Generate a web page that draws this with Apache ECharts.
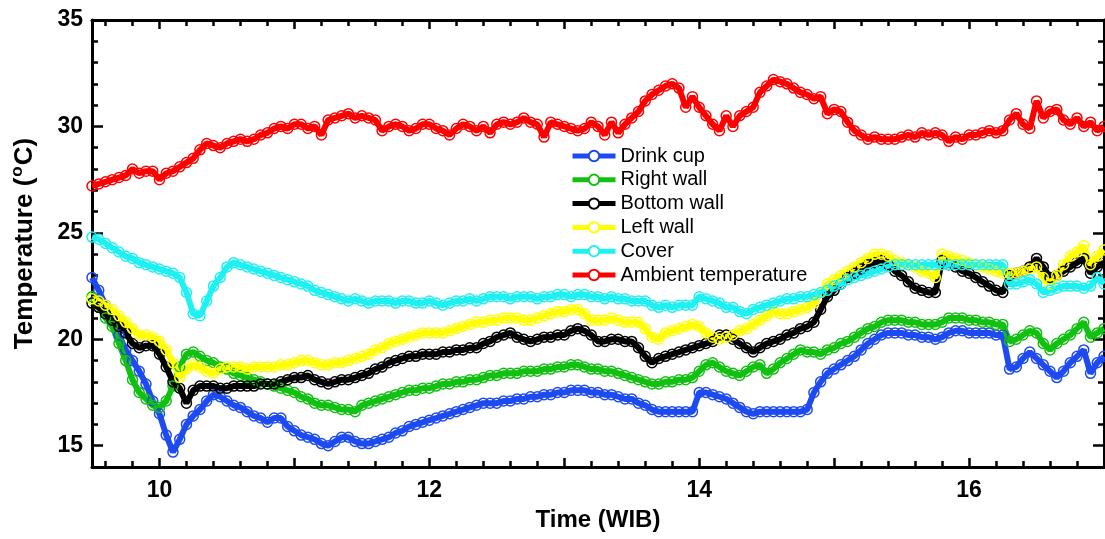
<!DOCTYPE html>
<html>
<head>
<meta charset="utf-8">
<script src="https://cdn.jsdelivr.net/npm/echarts@6/dist/echarts.min.js"></script>
<style>
html,body{margin:0;padding:0;background:#fff;}
#chart{width:1105px;height:539px;}
</style>
</head>
<body>
<div id="chart"></div>
<script>
const times = [
9.5,9.55,9.6,9.65,9.7,9.75,9.8,9.85,9.9,9.95,
10,10.05,10.1,10.15,10.2,10.25,10.3,10.35,10.4,10.45,
10.5,10.55,10.6,10.65,10.7,10.75,10.8,10.85,10.9,10.95,
11,11.05,11.1,11.15,11.2,11.25,11.3,11.35,11.4,11.45,
11.5,11.55,11.6,11.65,11.7,11.75,11.8,11.85,11.9,11.95,
12,12.05,12.1,12.15,12.2,12.25,12.3,12.35,12.4,12.45,
12.5,12.55,12.6,12.65,12.7,12.75,12.8,12.85,12.9,12.95,
13,13.05,13.1,13.15,13.2,13.25,13.3,13.35,13.4,13.45,
13.5,13.55,13.6,13.65,13.7,13.75,13.8,13.85,13.9,13.95,
14,14.05,14.1,14.15,14.2,14.25,14.3,14.35,14.4,14.45,
14.5,14.55,14.6,14.65,14.7,14.75,14.8,14.85,14.9,14.95,
15,15.05,15.1,15.15,15.2,15.25,15.3,15.35,15.4,15.45,
15.5,15.55,15.6,15.65,15.7,15.75,15.8,15.85,15.9,15.95,
16,16.05,16.1,16.15,16.2,16.25,16.3,16.35,16.4,16.45,
16.5,16.55,16.6,16.65,16.7,16.75,16.8,16.85,16.9,16.95,
17];

const drinkCup = [
22.9,22.3,21.6,20.9,20.2,19.5,19.0,18.5,17.9,17.1,
16.5,15.5,14.7,15.3,16.0,16.4,16.7,17.1,17.4,17.3,
17.1,16.9,16.8,16.6,16.4,16.3,16.1,16.3,16.3,15.9,
15.7,15.5,15.4,15.3,15.1,15.0,15.2,15.4,15.4,15.2,
15.1,15.1,15.2,15.3,15.4,15.6,15.7,15.9,16.0,16.1,
16.2,16.3,16.4,16.5,16.6,16.7,16.8,16.9,17.0,17.0,
17.0,17.1,17.1,17.2,17.2,17.3,17.3,17.4,17.4,17.5,
17.5,17.6,17.6,17.6,17.5,17.5,17.4,17.4,17.3,17.2,
17.2,17.0,16.9,16.7,16.6,16.6,16.6,16.6,16.6,16.6,
17.5,17.5,17.4,17.3,17.2,17.0,16.8,16.6,16.5,16.6,
16.6,16.6,16.6,16.6,16.6,16.6,16.7,17.5,18.0,18.4,
18.6,18.8,19.0,19.2,19.5,19.8,20.0,20.2,20.3,20.3,
20.3,20.2,20.2,20.1,20.1,20.0,20.1,20.3,20.4,20.4,
20.3,20.3,20.3,20.3,20.2,20.2,18.6,18.7,19.1,19.4,
19.1,18.8,18.5,18.2,18.5,18.9,19.2,19.5,18.4,18.9,
19.2];

const rightWall = [
22.0,21.5,21.0,20.6,19.8,19.0,18.1,17.5,17.2,16.9,
16.8,17.1,17.8,18.7,19.3,19.4,19.2,19.0,18.9,18.7,
18.6,18.4,18.3,18.2,18.1,18.0,17.9,17.8,17.7,17.6,
17.5,17.3,17.2,17.0,16.9,16.9,16.8,16.7,16.7,16.6,
16.9,17.0,17.1,17.2,17.3,17.4,17.5,17.6,17.6,17.7,
17.7,17.8,17.9,17.9,18.0,18.0,18.1,18.1,18.2,18.3,
18.3,18.4,18.4,18.4,18.5,18.5,18.5,18.6,18.6,18.7,
18.7,18.8,18.8,18.7,18.6,18.6,18.5,18.5,18.4,18.3,
18.2,18.1,18.0,17.9,17.9,18.0,18.0,18.1,18.1,18.2,
18.5,18.8,18.9,18.7,18.5,18.4,18.3,18.5,18.7,18.8,
18.4,18.6,18.9,19.1,19.3,19.5,19.4,19.4,19.3,19.5,
19.6,19.8,19.9,20.1,20.3,20.5,20.6,20.8,20.9,20.9,
20.9,20.8,20.8,20.7,20.7,20.7,20.8,21.0,21.0,21.0,
20.9,20.9,20.8,20.8,20.7,20.7,19.9,20.0,20.2,20.4,
20.3,19.8,19.5,19.8,20.0,20.2,20.5,20.8,20.1,20.3,
20.5];

const bottomWall = [
21.7,21.5,21.2,20.9,20.6,20.3,19.8,19.6,19.7,19.7,
19.3,18.7,18.0,17.7,17.0,17.6,17.8,17.8,17.8,17.7,
17.7,17.8,17.8,17.8,17.8,17.9,17.9,17.9,18.0,18.1,
18.2,18.2,18.3,18.1,18.0,17.9,18.0,18.1,18.1,18.2,
18.3,18.4,18.6,18.7,18.9,19.0,19.1,19.2,19.2,19.3,
19.3,19.3,19.4,19.4,19.5,19.5,19.6,19.6,19.8,19.9,
20.1,20.2,20.3,20.1,20.0,19.9,20.0,20.1,20.1,20.2,
20.2,20.4,20.5,20.4,20.2,19.9,19.9,20.0,20.0,19.9,
19.9,19.6,19.2,18.9,19.1,19.2,19.3,19.4,19.5,19.6,
19.7,19.8,19.9,20.2,20.2,20.0,19.8,19.6,19.4,19.6,
19.8,19.9,20.0,20.2,20.3,20.5,20.6,20.8,21.4,22.0,
22.3,22.6,22.9,23.1,23.3,23.5,23.6,23.7,23.5,23.2,
23.0,22.7,22.4,22.3,22.2,22.2,23.7,23.5,23.4,23.2,
23.1,22.9,22.7,22.5,22.3,22.2,23.0,23.1,23.2,23.4,
23.8,23.4,22.9,23.0,23.2,23.4,23.6,23.8,23.1,23.4,
23.6];

const leftWall = [
21.9,21.8,21.6,21.4,21.1,20.8,20.5,20.2,20.2,20.1,
19.9,19.5,18.9,18.2,18.6,18.8,18.7,18.5,18.4,18.6,
18.7,18.7,18.7,18.6,18.7,18.7,18.7,18.7,18.8,18.8,
18.9,19.0,19.0,18.9,18.8,18.8,18.9,18.9,19.0,19.1,
19.2,19.3,19.5,19.6,19.8,19.9,20.0,20.1,20.2,20.3,
20.3,20.3,20.3,20.4,20.5,20.6,20.7,20.8,20.8,20.9,
20.9,21.0,21.0,21.0,20.9,20.9,21.0,21.1,21.2,21.3,
21.3,21.4,21.4,21.2,20.9,20.9,20.9,21.0,20.9,20.8,
20.8,20.8,20.5,20.1,20.0,20.3,20.4,20.5,20.6,20.7,
20.6,20.3,20.1,20.0,20.1,20.2,20.4,20.5,20.7,20.9,
21.1,21.3,21.2,21.2,21.3,21.4,21.5,21.7,22.2,22.6,
22.8,23.0,23.2,23.4,23.6,23.8,24.0,24.0,23.9,23.7,
23.6,23.5,23.4,23.2,23.1,22.9,24.0,23.9,23.8,23.7,
23.6,23.5,23.4,23.3,23.2,23.1,23.1,23.1,23.2,23.3,
23.4,22.9,22.6,23.0,23.5,23.9,24.1,24.4,23.5,23.9,
24.2];

const cover = [
24.8,24.7,24.5,24.3,24.1,23.9,23.8,23.6,23.5,23.4,
23.3,23.2,23.1,22.9,22.2,21.2,21.1,21.8,22.5,22.9,
23.4,23.6,23.5,23.4,23.3,23.2,23.1,23.0,22.9,22.8,
22.7,22.6,22.5,22.3,22.2,22.1,22.0,21.9,21.8,21.9,
21.8,21.7,21.8,21.8,21.8,21.7,21.8,21.8,21.7,21.7,
21.8,21.7,21.6,21.7,21.8,21.8,21.9,21.8,21.9,22.0,
22.0,22.0,21.9,22.0,22.0,22.0,21.9,22.0,22.0,22.1,
22.1,22.0,22.1,22.1,22.0,22.0,21.9,22.0,21.9,21.9,
21.8,21.8,21.8,21.6,21.5,21.6,21.5,21.6,21.6,21.6,
22.0,21.9,21.8,21.7,21.5,21.5,21.3,21.2,21.4,21.5,
21.6,21.7,21.8,21.9,21.9,22.0,22.0,22.1,22.2,22.3,
22.5,22.6,22.8,22.9,23.0,23.1,23.2,23.3,23.4,23.5,
23.5,23.5,23.5,23.5,23.5,23.5,23.5,23.5,23.5,23.5,
23.5,23.5,23.5,23.5,23.5,23.5,22.6,22.6,22.7,22.8,
22.6,22.2,22.3,22.4,22.5,22.5,22.5,22.4,22.5,22.9,
22.6];

const ambient = [
27.2,27.3,27.4,27.5,27.6,27.7,28.0,27.8,27.9,27.9,
27.5,27.8,27.9,28.1,28.3,28.5,28.9,29.2,29.1,29.0,
29.2,29.3,29.4,29.3,29.4,29.6,29.7,29.9,30.0,29.9,
30.1,30.1,29.9,30.0,29.6,30.3,30.4,30.5,30.6,30.4,
30.5,30.4,30.3,29.8,30.0,30.1,30.0,29.8,29.9,30.1,
30.1,29.9,29.8,29.6,29.9,30.1,30.0,29.8,30.0,29.7,
30.1,30.2,30.1,30.2,30.4,30.2,30.1,29.5,30.2,30.1,
30.0,29.9,29.8,29.9,30.2,30.0,29.6,30.2,29.7,30.1,
30.4,30.7,31.2,31.5,31.7,31.9,32.0,31.8,30.9,31.4,
30.9,30.5,30.1,29.8,30.5,30.0,30.5,30.7,30.9,31.6,
31.9,32.2,32.1,32.0,31.8,31.6,31.5,31.3,31.4,30.6,
30.8,30.7,30.2,29.8,29.6,29.4,29.5,29.4,29.4,29.4,
29.5,29.6,29.5,29.7,29.6,29.7,29.6,29.3,29.5,29.4,
29.6,29.6,29.7,29.8,29.7,29.8,30.3,30.6,30.1,29.9,
31.2,30.4,30.7,30.8,30.3,30.1,30.4,30.0,30.2,29.8,
30.0];

const seriesNames = ['Drink cup','Right wall','Bottom wall','Left wall','Cover','Ambient temperature'];
const seriesColors = ['#1d4bf0','#12c012','#000000','#ffff00','#1ff0f2','#ff0000'];
const seriesValues = [drinkCup, rightWall, bottomWall, leftWall, cover, ambient];

const xLabelValues = [10,12,14,16];
const xMajorTicks = [10,11,12,13,14,15,16];
const xMinorTicks = [9.6,9.8,10.2,10.4,10.6,10.8,11.2,11.4,11.6,11.8,12.2,12.4,12.6,12.8,
  13.2,13.4,13.6,13.8,14.2,14.4,14.6,14.8,15.2,15.4,15.6,15.8,16.2,16.4,16.6,16.8];
const yLabelValues = [15,20,25,30,35];
const yMinorTicks = [15,16,17,18,19,20,21,22,23,24,25,26,27,28,29,30,31,32,33,34];

const FONT = 'Liberation Sans, Arial, sans-serif';

function xAx(pos, ticks, len, main) {
  return {
    type: 'value', position: pos, min: 9.5, max: 17,
    axisLine: { show: main, onZero: false, lineStyle: { color: '#000', width: 3 } },
    axisTick: { show: true, inside: true, length: len, customValues: ticks, lineStyle: { color: '#000', width: 2.5 } },
    axisLabel: main && pos === 'bottom' ? { show: true, customValues: xLabelValues, fontFamily: FONT, fontSize: 23, fontWeight: 'bold', color: '#000', margin: 12 } : { show: false },
    splitLine: { show: false }
  };
}
function yAx(pos, ticks, len, main) {
  return {
    type: 'value', position: pos, min: 14, max: 35,
    axisLine: { show: main, onZero: false, lineStyle: { color: '#000', width: 3 } },
    axisTick: { show: true, inside: true, length: len, customValues: ticks, lineStyle: { color: '#000', width: 2.5 } },
    axisLabel: main && pos === 'left' ? { show: true, customValues: yLabelValues, fontFamily: FONT, fontSize: 23, fontWeight: 'bold', color: '#000', margin: 9 } : { show: false },
    splitLine: { show: false }
  };
}

const xAxes = [
  xAx('bottom', xMajorTicks, 9, true),
  xAx('bottom', xMinorTicks, 6, false),
  xAx('top', xMajorTicks, 9, true),
  xAx('top', xMinorTicks, 6, false)
];
Object.assign(xAxes[0], {
  name: 'Time (WIB)', nameLocation: 'middle', nameGap: 41,
  nameTextStyle: { fontFamily: FONT, fontSize: 24, fontWeight: 'bold', color: '#000' }
});
const yAxes = [
  yAx('left', yLabelValues, 11, true),
  yAx('left', yMinorTicks, 6, false),
  yAx('right', yLabelValues, 11, true),
  yAx('right', yMinorTicks, 6, false)
];
Object.assign(yAxes[0], {
  name: 'Temperature ({s|o}C)', nameLocation: 'middle', nameGap: 51, nameRotate: 90,
  nameTextStyle: { fontFamily: FONT, fontSize: 26, fontWeight: 'bold', color: '#000',
    rich: { s: { fontFamily: FONT, fontSize: 17, fontWeight: 'bold', color: '#000', padding: [0, 1, 15, 1] } } }
});

const series = seriesNames.map((name, i) => ({
  name: name, type: 'line', xAxisIndex: 0, yAxisIndex: 0,
  data: times.map((t, k) => [t, seriesValues[i][k]]),
  color: seriesColors[i],
  symbol: 'circle', symbolSize: 10, showSymbol: true, showAllSymbol: true,
  lineStyle: { color: seriesColors[i], width: 6 },
  itemStyle: { color: 'rgba(255,255,255,0)', borderColor: seriesColors[i], borderWidth: 1.5 },
  emphasis: { disabled: true },
  animation: false,
  clip: true
}));

const chart = echarts.init(document.getElementById('chart'), null, { renderer: 'canvas' });
chart.setOption({
  backgroundColor: '#fff',
  animation: false,
  grid: { left: 92, right: 1, top: 20, bottom: 72, containLabel: false },
  xAxis: xAxes,
  yAxis: yAxes,
  legend: {
    data: seriesNames,
    orient: 'vertical', left: 570, top: 146, padding: 0,
    itemWidth: 43, itemHeight: 13, itemGap: 3.8,
    itemStyle: { color: '#ffffff' },
    lineStyle: { width: 5 },
    textStyle: { fontFamily: FONT, fontSize: 20, color: '#000' },
    selectedMode: false
  },
  series: series
});
</script>
</body>
</html>
